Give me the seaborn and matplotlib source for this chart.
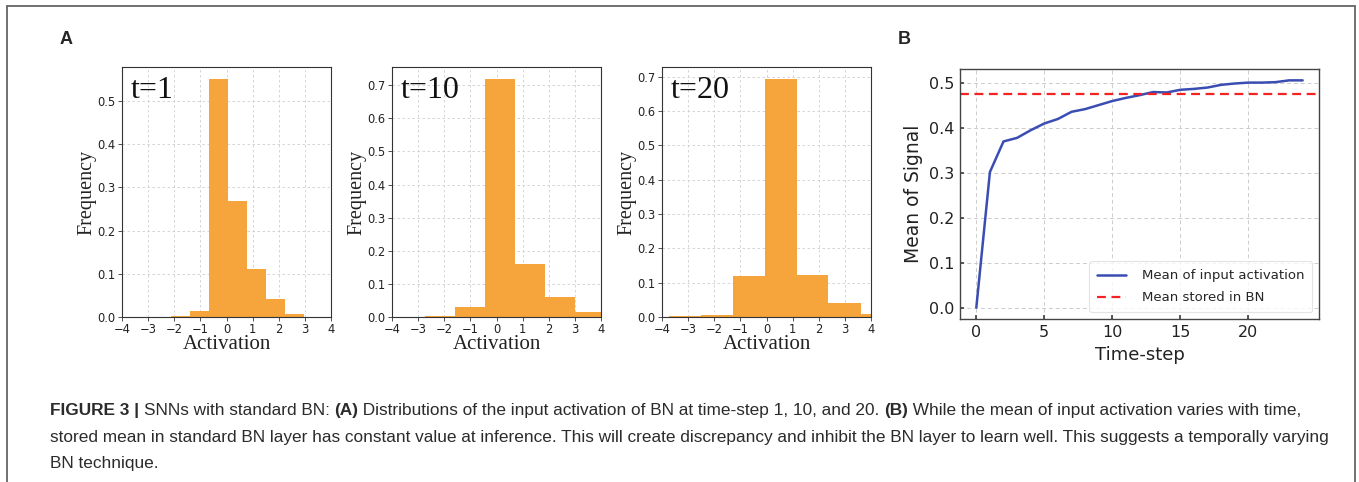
import numpy as np
import pandas as pd
import matplotlib
matplotlib.use("Agg")
import matplotlib.pyplot as plt
import seaborn as sns
from matplotlib.lines import Line2D

# ---------------- data ----------------
t1_edges = [-2.86, -2.13, -1.40, -0.67, 0.06, 0.79, 1.52, 2.25, 2.98, 3.71]
t1_freq = [0.001, 0.002, 0.015, 0.551, 0.269, 0.111, 0.041, 0.008, 0.001]

t10_edges = [-2.72, -1.58, -0.43, 0.71, 1.85, 2.99, 4.13]
t10_freq = [0.004, 0.030, 0.719, 0.159, 0.061, 0.016]

t20_edges = [-3.74, -2.52, -1.29, -0.07, 1.15, 2.37, 3.60, 4.82]
t20_freq = [0.002, 0.007, 0.119, 0.694, 0.122, 0.042, 0.009]

hist_titles = ["t=1", "t=10", "t=20"]
hist_xticks = [-4, -3, -2, -1, 0, 1, 2, 3, 4]

time_steps = list(range(25))
mean_input = [0.000, 0.302, 0.370, 0.378, 0.395, 0.410, 0.420, 0.436, 0.442,
              0.451, 0.460, 0.467, 0.473, 0.480, 0.479, 0.485, 0.487, 0.490,
              0.496, 0.499, 0.501, 0.501, 0.502, 0.506, 0.506]
mean_stored = 0.476
xticks_b = [0, 5, 10, 15, 20]
yticks_b = [0.0, 0.1, 0.2, 0.3, 0.4, 0.5]

caption_lines = [
    [("FIGURE 3 | ", True), ("SNNs with standard BN: ", False), ("(A)", True),
     (" Distributions of the input activation of BN at time-step 1, 10, and 20. ", False),
     ("(B)", True), (" While the mean of input activation varies with time,", False)],
    [("stored mean in standard BN layer has constant value at inference. This will create discrepancy and inhibit the BN layer to learn well. This suggests a temporally varying", False)],
    [("BN technique.", False)],
]

# ---------------- figure ----------------
sns.set_theme(style="white")
plt.rcParams["font.family"] = ["DejaVu Sans"]
W, H = 1359, 482
fig = plt.figure(figsize=(W / 100, H / 100), dpi=100)
fig.patch.set_facecolor("white")

def px_axes(l, t, r, b):
    return fig.add_axes([l / W, 1 - b / H, (r - l) / W, (b - t) / H])

BAR = "#F5A53B"
serif = ["Liberation Serif", "DejaVu Serif"]

hist_data = [(t1_edges, t1_freq), (t10_edges, t10_freq), (t20_edges, t20_freq)]
hist_pos = [(122, 67, 331, 317), (392, 67, 601, 317), (662, 67, 871, 317)]

for (edges, freq), pos, title in zip(hist_data, hist_pos, hist_titles):
    ax = px_axes(*pos)
    centers = [(a + b) / 2 for a, b in zip(edges[:-1], edges[1:])]
    df = pd.DataFrame({"x": centers, "w": freq})
    sns.histplot(data=df, x="x", weights="w", bins=edges, ax=ax, color=BAR,
                 alpha=1, edgecolor="none", linewidth=0, stat="count")
    ax.set_xlim(-4, 4)
    ax.set_xticks(hist_xticks)
    ax.set_xticklabels([str(v).replace("-", "\u2212") for v in hist_xticks])
    ax.set_ylim(0, max(freq) * 1.05)
    ax.yaxis.set_major_formatter(matplotlib.ticker.FormatStrFormatter("%.1f"))
    ax.tick_params(axis="both", labelsize=8.3, length=3, width=0.6, color="#333",
                   labelcolor="#222", pad=1.5, direction="out",
                   bottom=True, left=True)
    ax.grid(True, ls=(0, (3, 3)), lw=0.6, color="#cfcfcf")
    ax.set_axisbelow(True)
    for s in ax.spines.values():
        s.set_color("#333")
        s.set_linewidth(0.8)
    ax.set_xlabel("Activation", family=serif, fontsize=15, color="#222", labelpad=-1)
    ax.set_ylabel("Frequency", family=serif, fontsize=14.5, color="#222", labelpad=1)
    ax.text(0.04, 0.965, title, transform=ax.transAxes, ha="left", va="top",
            family=serif, fontsize=23, color="#111")

# Panel B
axb = px_axes(960, 69, 1319, 319)
dfb = pd.DataFrame({"Time-step": time_steps, "Mean": mean_input})
sns.lineplot(data=dfb, x="Time-step", y="Mean", ax=axb, color="#3A4DB3", lw=1.8,
             label="Mean of input activation")
axb.axhline(mean_stored, ls=(0, (4, 2.5)), color="#F42323", lw=1.6,
            label="Mean stored in BN")
axb.set_xticks(xticks_b)
axb.set_yticks(yticks_b)
axb.yaxis.set_major_formatter(matplotlib.ticker.FormatStrFormatter("%.1f"))
axb.tick_params(axis="both", labelsize=11.5, direction="in", length=3,
                color="#444", labelcolor="#222", pad=4, bottom=True, left=True)
axb.grid(True, ls=(0, (4, 3)), lw=0.7, color="#cccccc")
axb.set_axisbelow(True)
for s in axb.spines.values():
    s.set_color("#444")
    s.set_linewidth(1.0)
axb.set_xlabel("Time-step", fontsize=13, color="#222", labelpad=5)
axb.set_ylabel("Mean of Signal", fontsize=13.5, color="#222", labelpad=4)
leg = axb.legend(loc="lower right", fontsize=9.5, frameon=True, fancybox=True,
                 handlelength=2.2, handletextpad=1.2, borderpad=0.6,
                 labelspacing=0.7)
leg.get_frame().set_edgecolor("#dddddd")
leg.get_frame().set_linewidth(0.8)

# Panel letters
fig.text(60 / W, 1 - 40 / H, "A", fontsize=13, fontweight="bold",
         family=["Liberation Sans", "DejaVu Sans"], va="center", ha="left")
fig.text(898 / W, 1 - 40 / H, "B", fontsize=13, fontweight="bold",
         family=["Liberation Sans", "DejaVu Sans"], va="center", ha="left")

# Frame
frame_kw = dict(color="#666666", lw=1.3, transform=fig.transFigure)
fig.add_artist(Line2D([7 / W, 7 / W], [0, 1 - 6 / H], **frame_kw))
fig.add_artist(Line2D([7 / W, 1355 / W], [1 - 6 / H, 1 - 6 / H], **frame_kw))
fig.add_artist(Line2D([1355 / W, 1355 / W], [0, 1 - 6 / H], **frame_kw))

# Caption
fig.canvas.draw()
renderer = fig.canvas.get_renderer()
cap_font = ["Liberation Sans", "DejaVu Sans"]
cap_size = 12.4
line_y = [415, 442, 468]
for runs, yy in zip(caption_lines, line_y):
    x = 50
    for txt, bold in runs:
        t = fig.text(x / W, 1 - yy / H, txt, fontsize=cap_size,
                     fontweight="bold" if bold else "normal", family=cap_font,
                     color="#2b2b2b", va="baseline", ha="left")
        bb = t.get_window_extent(renderer=renderer)
        x += bb.width

fig.savefig("out.png", dpi=100, facecolor="white")
